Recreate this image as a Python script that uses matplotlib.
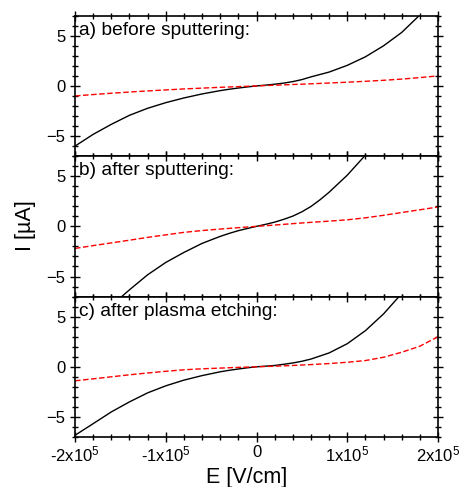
import numpy as np
import matplotlib
matplotlib.use("Agg")
import matplotlib.pyplot as plt
from matplotlib.ticker import MultipleLocator

plt.rcParams['font.family'] = ['Liberation Sans', 'DejaVu Sans']
plt.rcParams['mathtext.default'] = 'regular'

# Electric field (units of 1e4 V/cm) and current (µA)
E_a_black = [-20, -18, -16, -14, -12, -10, -8, -6, -4, -3, -2, -1, 0, 1, 2, 3, 4, 5, 6, 8, 10, 12, 14, 16, 18, 20]
I_a_black = [-6.0, -4.83, -3.83, -2.93, -2.23, -1.67, -1.2, -0.8, -0.47, -0.33, -0.21, -0.1, 0.0,
             0.08, 0.17, 0.28, 0.43, 0.63, 0.9, 1.38, 2.05, 2.9, 4.0, 5.33, 7.07, 9.0]
E_a_red = [-20, -18, -16, -14, -12, -10, -8, -6, -4, -2, 0, 2, 4, 6, 8, 10, 12, 14, 16, 18, 20]
I_a_red = [-1.0, -0.86, -0.73, -0.61, -0.5, -0.4, -0.3, -0.22, -0.14, -0.07, 0.0,
           0.07, 0.14, 0.21, 0.29, 0.37, 0.46, 0.56, 0.68, 0.83, 1.0]

E_b_black = [-16, -14, -12, -10, -8, -6, -4, -3, -2, -1, 0, 1, 2, 3, 4, 5, 6, 7, 8, 10, 12, 14]
I_b_black = [-7.9, -6.33, -4.83, -3.6, -2.6, -1.7, -1.0, -0.7, -0.43, -0.21, 0.0,
             0.2, 0.42, 0.7, 1.02, 1.45, 1.98, 2.65, 3.4, 5.1, 7.1, 9.3]
E_b_red = [-20, -18, -16, -14, -12, -10, -8, -6, -4, -2, 0, 2, 4, 6, 8, 10, 12, 14, 16, 18, 20]
I_b_red = [-2.2, -1.92, -1.65, -1.38, -1.1, -0.85, -0.6, -0.42, -0.27, -0.13, 0.0,
           0.13, 0.27, 0.4, 0.52, 0.65, 0.85, 1.1, 1.38, 1.65, 1.93]

E_c_black = [-20, -18, -16, -14, -12, -10, -8, -6, -4, -3, -2, -1, 0, 1, 2, 3, 4, 5, 6, 8, 10, 12, 14, 16, 18]
I_c_black = [-6.83, -5.67, -4.5, -3.5, -2.6, -1.9, -1.33, -0.88, -0.5, -0.35, -0.22, -0.1, 0.0,
             0.06, 0.13, 0.25, 0.38, 0.55, 0.77, 1.38, 2.3, 3.6, 5.27, 7.3, 9.5]
E_c_red = [-20, -18, -16, -14, -12, -10, -8, -6, -4, -2, 0, 2, 4, 6, 8, 10, 12, 14, 16, 18, 20]
I_c_red = [-1.4, -1.2, -1.0, -0.8, -0.62, -0.45, -0.3, -0.2, -0.13, -0.06, 0.0,
           0.06, 0.13, 0.22, 0.32, 0.45, 0.62, 0.95, 1.45, 2.05, 3.0]

panel_titles = ["a) before sputtering:", "b) after sputtering:", "c) after plasma etching:"]
x_tick_vals = [-2e5, -1e5, 0, 1e5, 2e5]
x_tick_labels = ['-2x10$^5$', '-1x10$^5$', '0', '1x10$^5$', '2x10$^5$']
y_tick_vals = [-5, 0, 5]

series = [
    (E_a_black, I_a_black, E_a_red, I_a_red),
    (E_b_black, I_b_black, E_b_red, I_b_red),
    (E_c_black, I_c_black, E_c_red, I_c_red),
]

fig = plt.figure(figsize=(4.61, 4.87), dpi=100)
left, right = 75 / 461, 438 / 461
top = 1 - 15.7 / 487
bottom = 1 - 437 / 487
h = (top - bottom) / 3

for i, (eb, ib, er, ir) in enumerate(series):
    ax = fig.add_axes([left, top - (i + 1) * h, right - left, h])
    ax.plot(np.array(eb) * 1e4, ib, color='black', lw=1.0)
    ax.plot(np.array(er) * 1e4, ir, color='red', lw=1.0, dashes=(4, 1.8))
    ax.set_xlim(-2e5, 2e5)
    ax.set_ylim(-7, 7)
    ax.set_xticks(x_tick_vals)
    ax.xaxis.set_minor_locator(MultipleLocator(2e4))
    ax.set_yticks(y_tick_vals)
    ax.yaxis.set_minor_locator(MultipleLocator(1))
    ax.tick_params(which='both', direction='inout', top=True, right=True,
                   labelsize=12, width=1.0)
    ax.tick_params(which='major', length=7)
    ax.tick_params(which='minor', length=4)
    ax.tick_params(axis='x', pad=2)
    for s in ax.spines.values():
        s.set_linewidth(1.2)
    ax.text(0.012, 0.955, panel_titles[i], transform=ax.transAxes,
            ha='left', va='top', fontsize=13.8)
    if i < 2:
        ax.set_xticklabels([])
    else:
        ax.set_xticklabels(x_tick_labels)

fig.text(247 / 461, 1 - 478 / 487, 'E [V/cm]', ha='center', va='center', fontsize=15.5)
fig.text(25 / 461, 1 - 226 / 487, 'I [µA]', rotation=90, ha='center', va='center', fontsize=15.5)

fig.savefig('out.png', dpi=100)
